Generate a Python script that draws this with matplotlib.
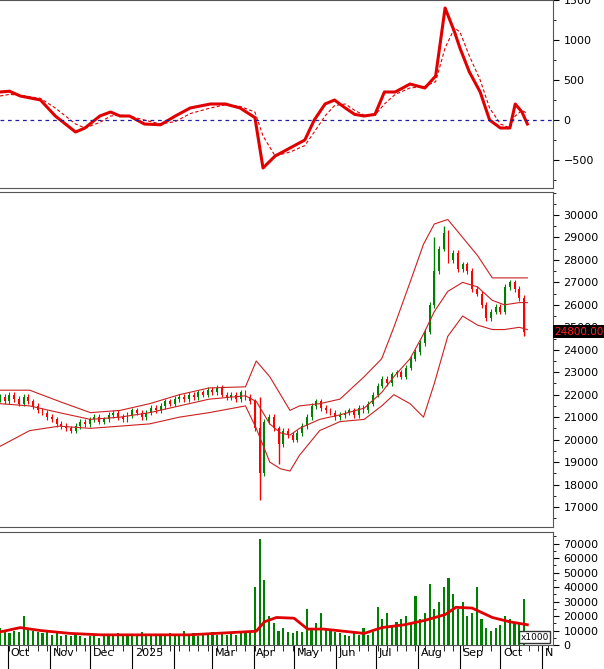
import matplotlib
matplotlib.use("Agg")
import matplotlib.pyplot as plt
import numpy as np
import pandas as pd

# ---------------- data ----------------
start_date = "2024-09-25"
candle_step_days = 3.5
closes = [21900, 21700, 22000, 21800, 21600, 21900, 21700,
          21500, 21300, 21200, 21000, 20900, 20700, 20600, 20500, 20400,
          20600, 20800, 20700, 20900, 21000, 20800, 20900, 21100,
          21200, 21000, 20900, 21100, 21300, 21200, 21000, 21200, 21400, 21300,
          21500, 21700, 21600, 21800, 21900, 21800, 22000, 21900, 22100, 22000, 22200, 22100, 22300, 22000,
          21900, 22000, 21800, 22100, 21900, 21700,
          20500, 18500,
          20800, 21000, 20500, 19800, 20400, 20200, 20000, 20300,
          20600, 21000, 21500, 21700, 21400, 21300, 21200, 21000, 21100,
          21200, 21300, 21100, 21400, 21300, 21600, 22000, 22400,
          22700, 22500, 22900, 23000, 22800, 23200, 23600, 23900,
          24300, 24800, 26000, 27500, 28500, 29200,
          28000, 28300, 27600, 27800, 27500, 26700,
          26500, 26000, 25400, 25700, 25900, 25700,
          26800, 27000, 26700, 26300, 24800]
first_open = 21800
wick_idx = [55, 59, 94, 111, 92]
wick_low = [17300, 18900, 28500, 24600, 26000]
wick_high = [21900, 20500, 29500, 25900, 29000]

volumes = [12000, 9000, 8000, 10000, 9000, 20000, 11000,
           10000, 9000, 8000, 9000, 7000, 8000, 6000, 7000, 6000,
           7000, 6000, 5000, 6000, 7000, 5000, 6000, 7000,
           6000, 8000, 7000, 6000, 7000, 6000, 9000, 7000, 6000, 7000,
           6000, 7000, 8000, 7000, 6000, 10000, 7000, 8000, 6000, 7000, 8000, 9000, 7000, 8000,
           7000, 8000, 7000, 9000, 8000, 9000,
           40000, 73000, 45000, 20000, 15000, 10000, 12000, 9000, 8000, 10000,
           9000, 25000, 12000, 15000, 22000, 11000, 10000, 9000, 8000,
           7000, 6000, 8000, 7000, 12000, 7000, 9000, 26000,
           18000, 22000, 14000, 16000, 18000, 20000, 15000, 34000,
           18000, 22000, 42000, 25000, 30000, 40000,
           46000, 35000, 25000, 30000, 20000, 22000,
           40000, 18000, 12000, 10000, 12000, 14000,
           20000, 18000, 16000, 15000, 32000]

# Bollinger bands (day offset from start_date, value)
bb_days = [0, 22, 44, 67, 89, 111, 133, 155, 182, 190, 200, 208, 215, 222, 237, 252, 270,
           283, 292, 304, 314, 322, 332, 343, 354, 365, 374, 385, 391]
bb_upper = [22200, 22200, 21700, 21200, 21300, 21600, 22000, 22300, 22350, 23500, 22800, 22000,
            21300, 21500, 21600, 21800, 22800, 23600, 25000, 27000, 28700, 29600, 29800, 29000,
            28200, 27200, 27200, 27200, 27200]
bb_mid = [21600, 21500, 21200, 20900, 21000, 21200, 21500, 21800, 21950, 21700, 20700, 20300,
          20200, 20500, 20900, 21100, 21400, 22100, 22800, 23600, 24700, 25700, 26600, 27000,
          26800, 26200, 26000, 26100, 26100]
bb_lower = [19700, 20400, 20600, 20500, 20600, 20700, 21000, 21200, 21500, 20500, 19000, 18700,
            18600, 19300, 20400, 20800, 20900, 21500, 22000, 21600, 21000, 22500, 24600, 25500,
            25100, 24900, 24900, 25000, 24900]

# MACD (day offset, value)
macd_days = [0, 7, 15, 30, 41, 56, 63, 74, 82, 89, 96, 107, 119, 130, 141, 156, 167, 178, 189,
             195, 204, 215, 226, 233, 241, 248, 256, 263, 270, 278, 285, 293, 304, 315, 323,
             330, 337, 341, 348, 356, 363, 371, 378, 382, 387, 391]
macd_line = [350, 360, 300, 250, 50, -150, -100, 50, 100, 50, 50, -50, -60, 50, 150, 200, 200,
             150, 30, -600, -450, -350, -250, 0, 200, 250, 150, 70, 50, 70, 350, 350, 450, 400,
             550, 1400, 1100, 900, 600, 350, 0, -100, -100, 200, 100, -50]
signal_line = [300, 320, 310, 270, 150, -50, -100, -30, 50, 60, 50, 0, -50, -20, 80, 150, 190,
               170, 100, -200, -450, -400, -320, -150, 50, 180, 200, 120, 60, 60, 200, 320, 400,
               420, 480, 900, 1150, 1100, 800, 500, 150, -50, -100, 50, 120, 80]

# Volume moving average (day offset, value)
vma_days = [0, 15, 30, 52, 75, 100, 140, 180, 190, 196, 205, 218, 228, 240, 260, 270, 283,
            300, 315, 330, 338, 350, 365, 378, 391]
vma_vals = [9000, 12000, 10000, 8000, 7000, 7000, 7000, 9000, 9500, 16000, 19000, 18500, 11000,
            11000, 9000, 8000, 12000, 14000, 17000, 21000, 26000, 25500, 19000, 16000, 14000]

month_labels = ["Oct", "Nov", "Dec", "2025", "", "Mar", "Apr", "May", "Jun", "Jul", "Aug",
                "Sep", "Oct", "N"]
month_starts = ["2024-10-01", "2024-11-01", "2024-12-01", "2025-01-01", "2025-02-01",
                "2025-03-01", "2025-04-01", "2025-05-01", "2025-06-01", "2025-07-01",
                "2025-08-01", "2025-09-01", "2025-10-01", "2025-11-01"]
last_price_label = "24800.00"

# ---------------- drawing ----------------
W, H = 604, 669
fig = plt.figure(figsize=(W / 100, H / 100), dpi=100)
plt.rcParams['font.family'] = ['DejaVu Sans']
t0 = pd.Timestamp(start_date)
xmax = 410
axw = 553 / W

ax_m = fig.add_axes([0, 1 - 188 / H, axw, 188 / H])
ax_p = fig.add_axes([0, 1 - 527 / H, axw, 335 / H])
ax_v = fig.add_axes([0, 1 - 645 / H, axw, 113 / H])

for ax in (ax_m, ax_p, ax_v):
    ax.set_xlim(0, xmax)
    ax.yaxis.tick_right()
    ax.tick_params(axis='y', labelsize=8, length=4, direction='out')
    ax.tick_params(axis='x', bottom=False, labelbottom=False)
    for s in ax.spines.values():
        s.set_color('#555555')
    ax.spines['left'].set_visible(False)

green, red = '#008000', '#ff0000'
cx = np.arange(len(closes)) * candle_step_days
opens = [first_open] + closes[:-1]
bw = 1.4
for i, (x, o, c) in enumerate(zip(cx, opens, closes)):
    col = green if c >= o else red
    lo, hi = min(o, c), max(o, c)
    if hi - lo < 60:
        hi = lo + 60
    ax_p.bar(x, hi - lo, bottom=lo, width=bw, color=col, linewidth=0)
    ax_p.vlines(x, lo - 120, hi + 120, color=col, linewidth=0.8)
for k, lw_, hw_ in zip(wick_idx, wick_low, wick_high):
    col = green if closes[k] >= opens[k] else red
    ax_p.vlines(cx[k], lw_, hw_, color=col, linewidth=1.0)

bc = '#cc2020'
ax_p.plot(bb_days, bb_upper, color=bc, lw=0.8)
ax_p.plot(bb_days, bb_mid, color=bc, lw=0.8)
ax_p.plot(bb_days, bb_lower, color=bc, lw=0.8)
ax_p.set_ylim(16109, 31024)
ax_p.set_yticks(range(17000, 30001, 1000))
ax_p.set_yticks(range(16500, 31001, 500), minor=True)
ax_p.tick_params(axis='y', which='minor', length=2)
ax_p.text(1.003, (closes[-1] - 16109) / (31024 - 16109), last_price_label, transform=ax_p.transAxes,
          color='#ff2020', fontsize=7.5, va='center', ha='left',
          bbox=dict(facecolor='black', edgecolor='none', pad=1.2))

ax_m.plot(macd_days, macd_line, color='#e00000', lw=2.2)
ax_m.plot(macd_days, signal_line, color='#e00000', lw=0.8, ls=(0, (3, 2)))
ax_m.axhline(0, color='#2020a0', lw=0.9, ls=(0, (3, 3)))
ax_m.set_ylim(-850, 1500)
ax_m.set_yticks([-500, 0, 500, 1000, 1500])
ax_m.set_yticks(range(-750, 1501, 250), minor=True)
ax_m.tick_params(axis='y', which='minor', length=2)

ax_v.bar(cx, volumes, width=1.6, color=green, linewidth=0)
ax_v.plot(vma_days, vma_vals, color='#e00000', lw=2.0)
ax_v.set_ylim(0, 78000)
ax_v.set_yticks(range(0, 70001, 10000))
ax_v.set_yticks(range(0, 75001, 5000), minor=True)
ax_v.tick_params(axis='y', which='minor', length=2)
ax_v.text(0.993, 0.03, "x1000", transform=ax_v.transAxes, fontsize=6.5, ha='right',
          va='bottom', bbox=dict(facecolor='white', edgecolor='#333333', pad=1))

# month ticks and labels under volume panel
mdays = [(pd.Timestamp(d) - t0).days for d in month_starts]
for d, lab in zip(mdays, month_labels):
    if d <= xmax:
        ax_v.plot([d, d], [0, -0.2], transform=ax_v.get_xaxis_transform(), color='black',
                  lw=0.8, clip_on=False)
        ax_v.text(d + 2, -0.03, lab, transform=ax_v.get_xaxis_transform(), fontsize=8,
                  va='top', ha='left')
week_days = np.arange(0, xmax, 7)
ax_v.set_xticks(week_days, minor=True)
ax_v.tick_params(axis='x', which='minor', bottom=True, length=4, direction='out')

fig.savefig("out.png", dpi=100)
